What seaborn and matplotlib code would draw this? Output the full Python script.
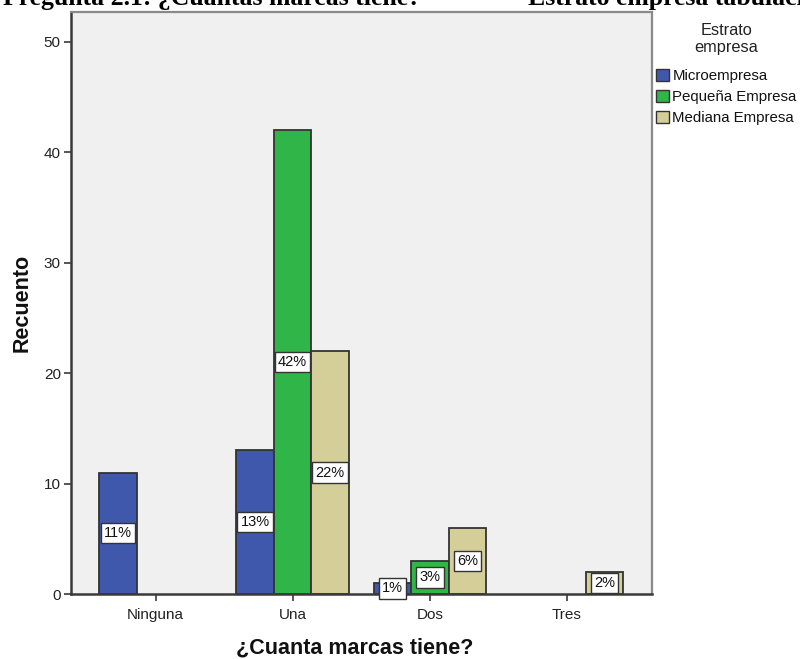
import matplotlib
matplotlib.use("Agg")
import matplotlib.pyplot as plt
from matplotlib.patches import Patch
import seaborn as sns
import pandas as pd

# Counts per answer and company stratum
categories = ["Ninguna", "Una", "Dos", "Tres"]
strata = ["Microempresa", "Pequeña Empresa", "Mediana Empresa"]
micro = [11, 13, 1, 0]
pequena = [0, 42, 3, 0]
mediana = [0, 22, 6, 2]
percent_labels = {
    ("Microempresa", "Ninguna"): "11%",
    ("Microempresa", "Una"): "13%",
    ("Microempresa", "Dos"): "1%",
    ("Pequeña Empresa", "Una"): "42%",
    ("Pequeña Empresa", "Dos"): "3%",
    ("Mediana Empresa", "Una"): "22%",
    ("Mediana Empresa", "Dos"): "6%",
    ("Mediana Empresa", "Tres"): "2%",
}
y_ticks = [0, 10, 20, 30, 40, 50]

colors = ["#3F58AB", "#30B548", "#D4CF98"]

rows = []
for stratum, vals in zip(strata, [micro, pequena, mediana]):
    for cat, v in zip(categories, vals):
        rows.append({"cat": cat, "Estrato": stratum, "n": v})
df = pd.DataFrame(rows)

sns.set_theme(style="white")
plt.rcParams["font.family"] = ["Liberation Sans", "DejaVu Sans"]

fig = plt.figure(figsize=(8.0, 6.59), dpi=100)
fig.patch.set_facecolor("white")
ax = fig.add_axes([70.5 / 800, 1 - 594 / 659, (652 - 70.5) / 800, (594 - 12) / 659])
ax.set_facecolor("#F0F0F0")

sns.barplot(data=df, x="cat", y="n", hue="Estrato", order=categories,
            hue_order=strata, palette=colors, saturation=1, width=0.82,
            ax=ax, edgecolor="#333333", linewidth=1.3, legend=False,
            errorbar=None)

# value boxes at mid-height of each bar; empty bars are hidden
for container, stratum in zip(ax.containers, strata):
    for bar, cat in zip(container, categories):
        h = bar.get_height()
        if h == 0:
            bar.set_visible(False)
        lab = percent_labels.get((stratum, cat))
        if lab is None:
            continue
        ax.text(bar.get_x() + bar.get_width() / 2, h / 2, lab,
                ha="center", va="center", fontsize=10.5, color="#111111",
                zorder=5,
                bbox=dict(boxstyle="square,pad=0.22", facecolor="white",
                          edgecolor="#333333", linewidth=1.0))

ax.set_xlim(-0.62, 3.62)
ax.set_ylim(0, 52.7)
ax.set_yticks(y_ticks)
ax.set_yticklabels([str(t) for t in y_ticks])

for side in ["left", "bottom"]:
    ax.spines[side].set_color("#3A3A3A")
    ax.spines[side].set_linewidth(1.8)
for side in ["top", "right"]:
    ax.spines[side].set_color("#8A8A8A")
    ax.spines[side].set_linewidth(1.6)

ax.tick_params(axis="both", which="major", direction="out", length=5,
               width=1.2, color="#3A3A3A", labelsize=11,
               labelcolor="#222222", left=True, bottom=True)
ax.tick_params(axis="x", pad=5)
ax.tick_params(axis="y", pad=2)

ax.set_xlabel("¿Cuanta marcas tiene?", fontsize=15.5, fontweight="bold",
              color="#111111", va="center")
ax.xaxis.set_label_coords(0.489, -54 / 582)
ax.set_ylabel("Recuento", fontsize=15.5, fontweight="bold",
              color="#111111", labelpad=8)

# legend to the right of the plot frame
handles = [Patch(facecolor=c, edgecolor="#333333", linewidth=1.0, label=s)
           for c, s in zip(colors, strata)]
leg = fig.legend(handles=handles, title="Estrato\nempresa",
                 loc="upper left", bbox_to_anchor=(656 / 800, 1 - 23 / 659),
                 frameon=False, fontsize=10.8, title_fontsize=11.8,
                 handlelength=0.85, handleheight=0.85, handletextpad=0.25,
                 labelspacing=0.45, borderaxespad=0, borderpad=0)
leg.get_title().set_multialignment("center")
leg.get_title().set_color("#222222")
leg._legend_box.sep = 10
for t in leg.get_texts():
    t.set_color("#111111")

# caption running off the top edge of the canvas
serif = ["Liberation Serif", "DejaVu Serif"]
caption_parts = [(3, "Pregunta 2.1: ¿Cuantas marcas tiene?"),
                 (470, "*"),
                 (528, "Estrato empresa tabulación cruzada")]
for xpix, part in caption_parts:
    fig.text(xpix / 800, 1 - 5 / 659, part,
             ha="left", va="baseline", fontsize=18.5, fontweight="bold",
             family=serif, color="black")

fig.savefig("out.png", dpi=100, facecolor="white")
